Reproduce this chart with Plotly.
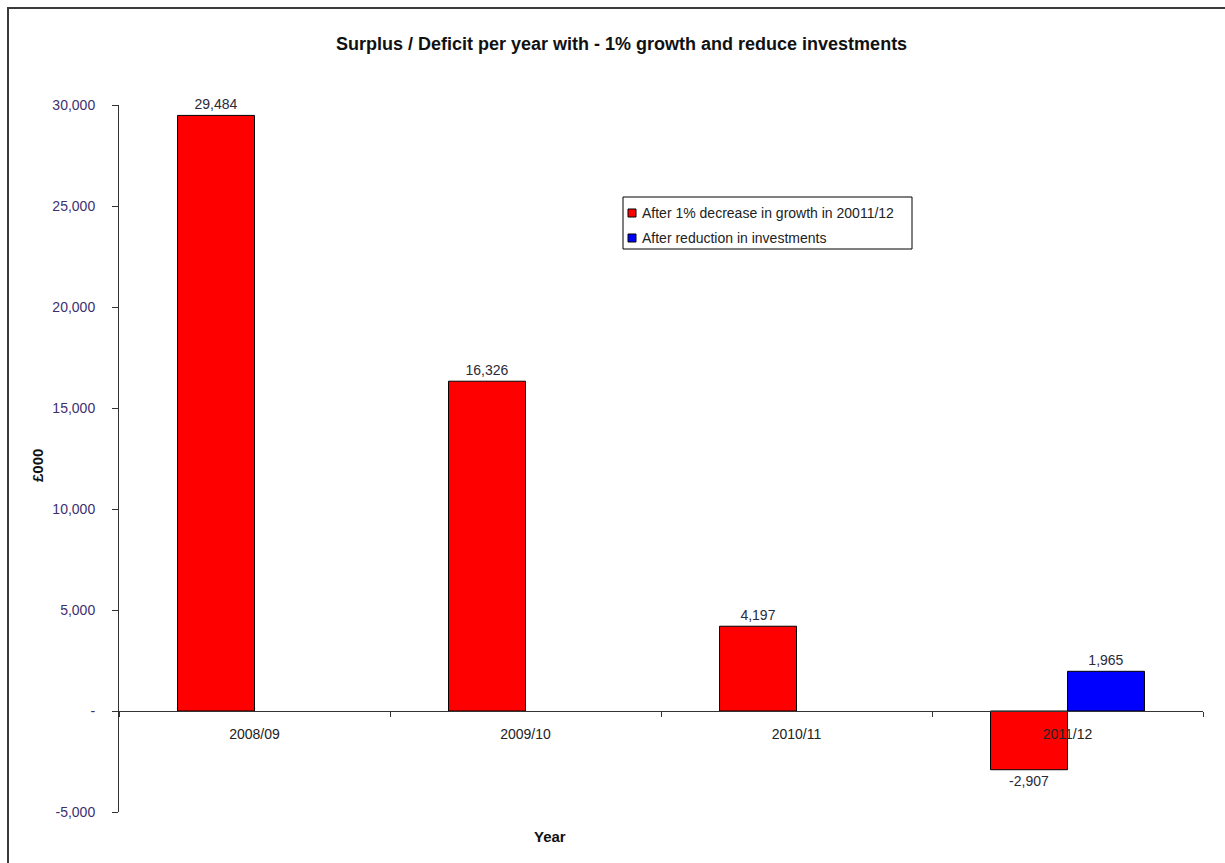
import plotly.graph_objects as go

categories = ["2008/09", "2009/10", "2010/11", "2011/12"]
growth_values = [29484, 16326, 4197, -2907]
invest_values = [None, None, None, 1965]
series_names = ["After 1% decrease in growth in 20011/12", "After reduction in investments"]
series_colors = ["#FF0000", "#0000FF"]
y_tickvals = [-5000, 0, 5000, 10000, 15000, 20000, 25000, 30000]
y_ticktext = ["-5,000", "-", "5,000", "10,000", "15,000", "20,000", "25,000", "30,000"]

W, H = 1225, 863
L, R, T, B = 119, 22, 105, 51
PW, PH = W - L - R, H - T - B


def px(x):
    return (x - L) / PW


def py(y):
    return (H - B - y) / PH


FONT = "Arial, Liberation Sans, sans-serif"


def fmt(v):
    return "" if v is None else f"{v:,}"


fig = go.Figure()
for vals, name, col in [(growth_values, series_names[0], series_colors[0]),
                        (invest_values, series_names[1], series_colors[1])]:
    fig.add_trace(go.Bar(
        x=categories, y=vals, name=name,
        marker=dict(color=col, line=dict(color="#000000", width=1)),
        text=[fmt(v) for v in vals], textposition="outside",
        textfont=dict(family=FONT, size=14, color="#2a2a3a"), cliponaxis=False,
    ))

# manual legend (box, swatches, labels)
leg_x0, leg_x1, leg_y0, leg_y1 = 623, 912, 197, 249
row_y = [213, 238]
shapes = [
    dict(type="rect", xref="paper", yref="paper",
         x0=px(8), x1=px(1260), y0=py(900), y1=py(8),
         line=dict(color="#3a3a3a", width=2), layer="below"),
    dict(type="rect", xref="paper", yref="paper",
         x0=px(leg_x0), x1=px(leg_x1), y0=py(leg_y1), y1=py(leg_y0),
         line=dict(color="#000000", width=1), fillcolor="white", layer="above"),
]
annotations = [
    dict(text="<b>Surplus / Deficit per year with - 1% growth and reduce investments</b>",
         x=px(621), y=py(44), xref="paper", yref="paper", showarrow=False,
         xanchor="center", yanchor="middle",
         font=dict(family=FONT, size=18, color="#111")),
    dict(text="<b>£000</b>", x=px(37), y=py(466), xref="paper", yref="paper",
         showarrow=False, textangle=-90, xanchor="center", yanchor="middle",
         font=dict(family=FONT, size=15, color="#111")),
    dict(text="<b>Year</b>", x=px(550), y=py(836), xref="paper", yref="paper",
         showarrow=False, xanchor="center", yanchor="middle",
         font=dict(family=FONT, size=15, color="#111")),
]
for ry, name, col in zip(row_y, series_names, series_colors):
    shapes.append(dict(type="rect", xref="paper", yref="paper",
                       x0=px(628), x1=px(636), y0=py(ry + 4), y1=py(ry - 4),
                       line=dict(color="#000000", width=1), fillcolor=col, layer="above"))
    annotations.append(dict(text=name, x=px(640), y=py(ry), xref="paper", yref="paper",
                            showarrow=False, xanchor="left", yanchor="middle",
                            font=dict(family=FONT, size=14, color="#222")))

fig.update_layout(
    width=W, height=H,
    margin=dict(l=L, r=R, t=T, b=B, autoexpand=False),
    paper_bgcolor="white", plot_bgcolor="white",
    barmode="group", bargap=0.432, bargroupgap=0,
    font=dict(family=FONT, size=14, color="#222"),
    showlegend=False,
    xaxis=dict(
        type="category", anchor="free", position=5000 / 35000,
        showline=True, linecolor="#333", linewidth=1,
        ticks="outside", ticklen=5, tickcolor="#333", tickson="boundaries",
        showgrid=False, zeroline=False, ticklabelstandoff=10,
        tickfont=dict(family=FONT, size=14, color="#222"),
    ),
    yaxis=dict(
        range=[-5000, 30000], tickvals=y_tickvals, ticktext=y_ticktext,
        showline=True, linecolor="#333", linewidth=1,
        ticks="outside", ticklen=6, tickcolor="#333",
        showgrid=False, zeroline=False, ticklabelstandoff=14,
        tickfont=dict(family=FONT, size=14, color="#3d2f6e"),
    ),
    annotations=annotations,
    shapes=shapes,
)

fig.write_html("out.html")
